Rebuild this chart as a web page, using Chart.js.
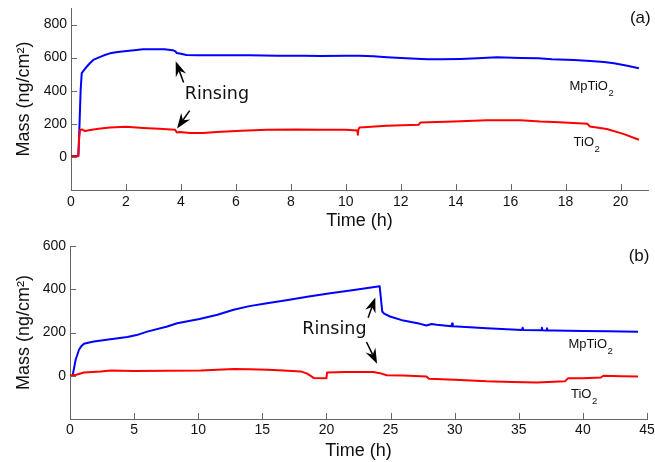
<!DOCTYPE html>
<html>
<head>
<meta charset="utf-8">
<script src="https://cdn.jsdelivr.net/npm/chart.js@4.4.1/dist/chart.umd.min.js"></script>
<style>
  html, body { margin: 0; padding: 0; background: #fff; }
  canvas { position: absolute; left: 0; }
  #chartA { top: 0; }
  #chartB { top: 231px; }
</style>
</head>
<body>
<canvas id="chartA" width="655" height="231"></canvas>
<canvas id="chartB" width="655" height="231"></canvas>
<script>
/* ── Data ──────────────────────────────────────────────────────────────── */
// panel (a)
const timeMpA = [0, 0.27, 0.30, 0.35, 0.39, 0.50, 0.65, 0.81, 1.00, 1.20, 1.42, 1.70, 2.03, 2.30, 2.62, 3.00, 3.40, 3.70, 3.80, 3.85, 4.00, 4.20, 4.60, 5.50, 6.50, 7.50, 8.50, 9.07, 10.0, 10.5, 11.0, 11.5, 12.2, 12.96, 13.5, 14.17, 14.8, 15.5, 16.36, 17.0, 17.5, 18.3, 18.9, 19.4, 19.76, 20.2, 20.67];
const massMpA = [5, 5, 150, 400, 506, 530, 560, 586, 600, 614, 626, 634, 640, 645, 650, 650, 650, 645, 638, 628, 624, 616, 614, 614, 614, 612, 612, 610, 612, 612, 608, 602, 596, 590, 590, 592, 596, 602, 598, 596, 590, 586, 580, 574, 566, 552, 536];

const timeTiA = [0, 0.26, 0.30, 0.33, 0.42, 0.51, 0.70, 1.00, 1.42, 2.00, 2.63, 3.20, 3.79, 3.85, 3.95, 4.34, 4.80, 5.30, 6.20, 7.13, 8.20, 9.07, 10.0, 10.42, 10.44, 10.46, 10.50, 11.5, 12.65, 12.72, 13.93, 15.14, 16.36, 17.08, 17.57, 18.30, 18.80, 18.88, 19.50, 20.10, 20.67];
const massTiA = [4, 4, 120, 164, 165, 156, 162, 170, 178, 182, 175, 170, 164, 148, 150, 145, 145, 150, 158, 164, 166, 164, 164, 160, 134, 165, 178, 188, 194, 208, 214, 222, 222, 214, 211, 205, 200, 184, 169, 139, 104];

const xTicksA = [0, 2, 4, 6, 8, 10, 12, 14, 16, 18, 20];
const yTicksA = [0, 200, 400, 600, 800];

// panel (b)
const timeMpB = [0, 0.20, 0.30, 0.44, 0.70, 0.90, 1.09, 1.50, 1.87, 3.00, 4.47, 5.20, 6.02, 7.58, 8.36, 10.1, 11.5, 12.76, 14.0, 15.36, 17.0, 18.5, 20.3, 22.0, 24.15, 24.35, 24.5, 24.96, 26.0, 27.3, 27.8, 28.2, 28.6, 29.75, 29.8, 29.85, 32.5, 35.25, 35.3, 35.35, 36.75, 36.8, 36.85, 37.15, 37.2, 37.25, 37.7, 40.0, 42.0, 44.3];
const massMpB = [0, 0, 30, 74, 120, 138, 148, 154, 158, 168, 179, 188, 204, 228, 243, 262, 282, 305, 322, 335, 350, 365, 382, 395, 414, 297, 287, 274, 255, 240, 232, 239, 236, 229, 242, 229, 220, 212, 222, 212, 210, 222, 210, 209, 220, 209, 209, 207, 206, 204];

const timeTiB = [0, 0.50, 1.09, 2.40, 3.17, 5.00, 7.50, 10.2, 12.8, 14.0, 15.4, 16.65, 18.0, 18.5, 18.8, 19.0, 20.0, 20.05, 21.5, 23.66, 24.18, 24.7, 26.0, 27.8, 28.0, 30.0, 32.5, 34.5, 36.4, 38.6, 38.85, 40.0, 41.4, 41.6, 43.0, 44.3];
const massTiB = [0, 5, 15, 20, 24, 22, 23, 24, 31, 30, 28, 24, 20, 10, -2, -10, -11, 15, 17, 17, 12, 2, 1, -3, -14, -18, -26, -29, -31, -26, -11, -11, -8, 0, -2, -3];

const xTicksB = [0, 5, 10, 15, 20, 25, 30, 35, 40, 45];
const yTicksB = [0, 200, 400, 600];

/* ── Styles ─────────────────────────────────────────────────────────────── */
const BLUE = '#0000ff';
const RED  = '#ff0000';
const AXIS = '#666666';
const TEXT = '#111111';
const SANS = '"Liberation Sans", Arial, sans-serif';

const pts = (ts, vs) => ts.map((t, i) => ({ x: t, y: vs[i] }));

function drawArrow(ctx, x1, y1, x2, y2) {
  const ang = Math.atan2(y2 - y1, x2 - x1);
  const len = 15, half = 5.5, back = 10;
  const c = Math.cos(ang), s = Math.sin(ang);
  ctx.strokeStyle = '#000';
  ctx.fillStyle = '#000';
  ctx.lineWidth = 1.5;
  ctx.beginPath();
  ctx.moveTo(x1, y1);
  ctx.lineTo(x2 - c * back, y2 - s * back);
  ctx.stroke();
  ctx.beginPath();
  ctx.moveTo(x2, y2);
  ctx.lineTo(x2 - c * len + s * half, y2 - s * len - c * half);
  ctx.lineTo(x2 - c * back, y2 - s * back);
  ctx.lineTo(x2 - c * len - s * half, y2 - s * len + c * half);
  ctx.closePath();
  ctx.fill();
}

function drawSub(ctx, base, sub, px, py) {
  ctx.fillStyle = TEXT;
  ctx.textAlign = 'left';
  ctx.textBaseline = 'alphabetic';
  ctx.font = '13px ' + SANS;
  ctx.fillText(base, px, py);
  const w = ctx.measureText(base).width;
  ctx.font = '9.5px ' + SANS;
  ctx.fillText(sub, px + w + 0.5, py + 6);
}

/* ── Plugin: inward ticks, arrows and labels ───────────────────────────── */
function decoPlugin(o) {
  return {
    id: 'deco',
    afterDraw(chart) {
      const { ctx, chartArea: ca, scales: { x, y } } = chart;
      const X = v => x.getPixelForValue(v);
      const Y = v => y.getPixelForValue(v);
      ctx.save();
      ctx.strokeStyle = AXIS;
      ctx.lineWidth = 1;
      ctx.beginPath();
      o.xTicks.forEach(v => {
        const px = Math.round(X(v)) + 0.5;
        ctx.moveTo(px, ca.bottom);
        ctx.lineTo(px, ca.bottom - 6);
      });
      o.yTicks.forEach(v => {
        const py = Math.round(Y(v)) + 0.5;
        ctx.moveTo(ca.left, py);
        ctx.lineTo(ca.left + 6, py);
      });
      ctx.stroke();

      o.arrows.forEach(a => drawArrow(ctx, X(a[0]), Y(a[1]), X(a[2]), Y(a[3])));

      ctx.fillStyle = '#111';
      ctx.font = '17.5px "DejaVu Sans", sans-serif';
      ctx.textAlign = 'center';
      ctx.textBaseline = 'middle';
      ctx.fillText('Rinsing', X(o.rinse[0]), Y(o.rinse[1]));

      ctx.font = '17px ' + SANS;
      ctx.fillText(o.panel, X(o.panelAt[0]), Y(o.panelAt[1]));

      drawSub(ctx, 'MpTiO', '2', X(o.mpAt[0]), Y(o.mpAt[1]));
      drawSub(ctx, 'TiO', '2', X(o.tiAt[0]), Y(o.tiAt[1]));
      ctx.restore();
    }
  };
}

/* ── Chart factory ─────────────────────────────────────────────────────── */
function makeChart(id, o) {
  const line = { borderWidth: 2, pointRadius: 0, tension: 0, fill: false, borderJoinStyle: 'round' };
  return new Chart(document.getElementById(id), {
    type: 'line',
    data: {
      datasets: [
        { ...line, data: pts(o.tTi, o.mTi), borderColor: RED },
        { ...line, data: pts(o.tMp, o.mMp), borderColor: BLUE }
      ]
    },
    options: {
      responsive: false,
      animation: false,
      events: [],
      layout: { padding: { top: o.top, right: o.right, left: 0, bottom: 0 } },
      plugins: { legend: { display: false }, tooltip: { enabled: false } },
      scales: {
        x: {
          type: 'linear', min: o.xMin, max: o.xMax,
          grid: { display: false, drawTicks: false },
          border: { display: true, color: AXIS, width: 1 },
          ticks: { color: TEXT, font: { family: SANS, size: 14 }, padding: o.xPad, maxRotation: 0 },
          afterBuildTicks: s => { s.ticks = o.xTicks.map(v => ({ value: v })); },
          afterFit: s => { s.height = o.xH; s.paddingLeft = 0; s.paddingRight = 0; },
          title: { display: true, text: 'Time (h)', color: TEXT,
                   font: { family: SANS, size: 18, lineHeight: 1 }, padding: { top: 0, bottom: o.xTitlePad } }
        },
        y: {
          type: 'linear', min: o.yMin, max: o.yMax,
          grid: { display: false, drawTicks: false },
          border: { display: true, color: AXIS, width: 1 },
          ticks: { color: TEXT, font: { family: SANS, size: 14 }, padding: 4 },
          afterBuildTicks: s => { s.ticks = o.yTicks.map(v => ({ value: v })); },
          afterFit: s => { s.width = o.yW; s.paddingTop = 0; s.paddingBottom = 0; },
          title: { display: true, text: 'Mass (ng/cm²)', color: TEXT,
                   font: { family: SANS, size: 18, lineHeight: 1 }, padding: { top: 15, bottom: 0 } }
        }
      }
    },
    plugins: [decoPlugin(o)]
  });
}

/* ── Init ──────────────────────────────────────────────────────────────── */
makeChart('chartA', {
  tMp: timeMpA, mMp: massMpA, tTi: timeTiA, mTi: massTiA,
  xTicks: xTicksA, yTicks: yTicksA,
  xMin: 0, xMax: 21, yMin: -200, yMax: 900,
  top: 8, right: 7, yW: 71, xH: 41, xPad: 4, xTitlePad: 1,
  arrows: [[4.10, 450, 3.81, 578], [4.32, 280, 3.86, 172]],
  rinse: [5.31, 378],
  panel: '(a)', panelAt: [20.72, 835],
  mpAt: [18.14, 405], tiAt: [18.29, 68]
});

makeChart('chartB', {
  tMp: timeMpB, mMp: massMpB, tTi: timeTiB, mTi: massTiB,
  xTicks: xTicksB, yTicks: yTicksB,
  xMin: 0, xMax: 45, yMin: -200, yMax: 600,
  top: 15, right: 8, yW: 70, xH: 43, xPad: 3, xTitlePad: 2,
  arrows: [[23.25, 268, 23.81, 362], [23.12, 156, 23.95, 56]],
  rinse: [20.62, 212],
  panel: '(b)', panelAt: [44.38, 551],
  mpAt: [38.88, 129], tiAt: [39.07, -101]
});
</script>
</body>
</html>
